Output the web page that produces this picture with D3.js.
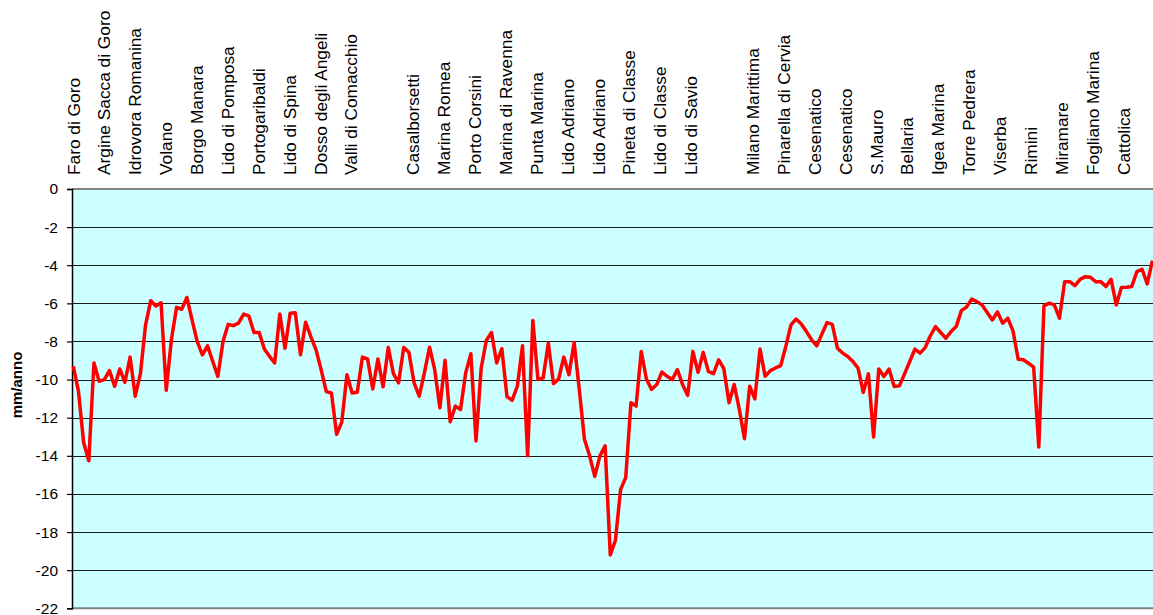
<!DOCTYPE html>
<html>
<head>
<meta charset="utf-8">
<script src="https://cdn.jsdelivr.net/npm/d3@7"></script>
<style>
  html, body { margin: 0; padding: 0; background: #ffffff; }
  svg { display: block; font-family: "Liberation Sans", Arial, sans-serif; }
</style>
</head>
<body>
<svg id="chart" width="1153" height="615"></svg>
<script>
// ---- data ----
const stationLabels = [
  "Faro di Goro", "Argine Sacca di Goro", "Idrovora Romanina", "Volano", "Borgo Manara",
  "Lido di Pomposa", "Portogaribaldi", "Lido di Spina", "Dosso degli Angeli", "Valli di Comacchio",
  "", "Casalborsetti", "Marina Romea", "Porto Corsini", "Marina di Ravenna",
  "Punta Marina", "Lido Adriano", "Lido Adriano", "Pineta di Classe", "Lido di Classe",
  "Lido di Savio", "", "Milano Marittima", "Pinarella di Cervia", "Cesenatico",
  "Cesenatico", "S.Mauro", "Bellaria", "Igea Marina", "Torre Pedrera",
  "Viserba", "Rimini", "Miramare", "Fogliano Marina", "Cattolica"
];

const subsidence = [
  -9.30, -10.61, -13.30, -14.26, -9.13, -10.09, -10.00, -9.53, -10.35, -9.44,
  -10.14, -8.82, -10.87, -9.69, -7.13, -5.86, -6.14, -5.97, -10.56, -7.91,
  -6.21, -6.31, -5.69, -6.87, -8.00, -8.70, -8.23, -9.04, -9.83, -8.00,
  -7.10, -7.17, -7.04, -6.56, -6.66, -7.53, -7.53, -8.40, -8.78, -9.13,
  -6.56, -8.35, -6.52, -6.49, -8.70, -6.99, -7.74, -8.43, -9.48, -10.63,
  -10.70, -12.87, -12.23, -9.74, -10.70, -10.66, -8.82, -8.92, -10.49, -8.92,
  -10.38, -8.31, -9.69, -10.17, -8.31, -8.57, -10.17, -10.87, -9.65, -8.30,
  -9.48, -11.48, -8.99, -12.21, -11.39, -11.57, -9.65, -8.64, -13.22, -9.39,
  -7.95, -7.53, -9.13, -8.38, -10.90, -11.08, -10.35, -8.23, -14.00, -6.90,
  -10.00, -9.91, -8.09, -10.21, -9.97, -8.82, -9.74, -8.05, -10.52, -13.13,
  -14.00, -15.08, -14.00, -13.48, -19.20, -18.43, -15.77, -15.13, -11.22, -11.39,
  -8.52, -9.97, -10.52, -10.26, -9.60, -9.83, -10.00, -9.48, -10.26, -10.83,
  -8.52, -9.62, -8.57, -9.57, -9.69, -8.96, -9.43, -11.22, -10.26, -11.57,
  -13.10, -10.35, -11.01, -8.40, -9.83, -9.53, -9.39, -9.27, -8.26, -7.13,
  -6.82, -7.08, -7.48, -7.91, -8.23, -7.60, -7.01, -7.10, -8.35, -8.61,
  -8.79, -9.05, -9.40, -10.67, -9.70, -13.01, -9.45, -9.84, -9.45, -10.36,
  -10.33, -9.70, -9.05, -8.40, -8.61, -8.32, -7.70, -7.22, -7.53, -7.83,
  -7.48, -7.22, -6.38, -6.20, -5.78, -5.91, -6.08, -6.48, -6.87, -6.45,
  -7.04, -6.78, -7.44, -8.93, -8.96, -9.14, -9.35, -13.54, -6.13, -5.99,
  -6.08, -6.78, -4.86, -4.86, -5.07, -4.74, -4.60, -4.63, -4.86, -4.86,
  -5.12, -4.74, -6.08, -5.17, -5.16, -5.12, -4.33, -4.21, -4.98, -3.76
];

const yTicks = [0, -2, -4, -6, -8, -10, -12, -14, -16, -18, -20, -22];
const yTitle = "mm/anno";

// ---- layout ----
const svg = d3.select("#chart");
const plotL = 72, plotR = 1153, plotT = 189, plotB = 608.3;

const y = d3.scaleLinear().domain([-22, 0]).range([plotB, plotT]);
const xPts = d3.scaleLinear().domain([0, subsidence.length - 1]).range([73.3, 1152.4]);
const xLab = d3.scaleBand().domain(d3.range(stationLabels.length)).range([plotL, plotR]).paddingInner(0).paddingOuter(0);

// background
svg.append("rect")
  .attr("x", plotL).attr("y", plotT)
  .attr("width", plotR - plotL).attr("height", plotB - plotT)
  .attr("fill", "#ccffff");

// gridlines
svg.append("g")
  .selectAll("line")
  .data(yTicks.filter(d => d !== 0 && d !== -22))
  .join("line")
  .attr("x1", plotL).attr("x2", plotR)
  .attr("y1", d => Math.round(y(d)) + 0.5).attr("y2", d => Math.round(y(d)) + 0.5)
  .attr("stroke", "#1a1a1a").attr("stroke-width", 1.2);

// top/bottom borders (gray)
svg.append("g")
  .selectAll("line")
  .data([0, -22])
  .join("line")
  .attr("x1", plotL).attr("x2", plotR)
  .attr("y1", d => y(d)).attr("y2", d => y(d))
  .attr("stroke", "#808080").attr("stroke-width", 2);

// y axis
const yAxis = d3.axisLeft(y).tickValues(yTicks).tickSize(5).tickPadding(9).tickFormat(d => String(d));
const gy = svg.append("g").attr("transform", `translate(${plotL},0)`).call(yAxis);
gy.select(".domain").attr("stroke", "#000").attr("stroke-width", 1.5);
gy.selectAll(".tick line").attr("stroke", "#000").attr("stroke-width", 1.2);
gy.selectAll(".tick text")
  .attr("font-size", "15.5px")
  .attr("font-family", "'Liberation Sans', Arial, sans-serif")
  .attr("fill", "#000");

// y title
svg.append("text")
  .attr("transform", `translate(22,385) rotate(-90)`)
  .attr("text-anchor", "middle")
  .attr("font-size", "15px")
  .attr("font-weight", "bold")
  .attr("fill", "#000")
  .text(yTitle);

// top station labels
svg.append("g")
  .selectAll("text")
  .data(stationLabels.map((t, i) => ({ t, i })).filter(d => d.t !== ""))
  .join("text")
  .attr("transform", d => `translate(${xLab(d.i) + 7.5},175) rotate(-90)`)
  .attr("text-anchor", "start")
  .attr("font-size", "17.3px")
  .attr("fill", "#000")
  .text(d => d.t);

// line
const line = d3.line()
  .x((d, i) => xPts(i))
  .y(d => y(d));

svg.append("path")
  .datum(subsidence)
  .attr("d", line)
  .attr("fill", "none")
  .attr("stroke", "#ff0000")
  .attr("stroke-width", 3.5)
  .attr("stroke-linejoin", "round");
</script>
</body>
</html>
